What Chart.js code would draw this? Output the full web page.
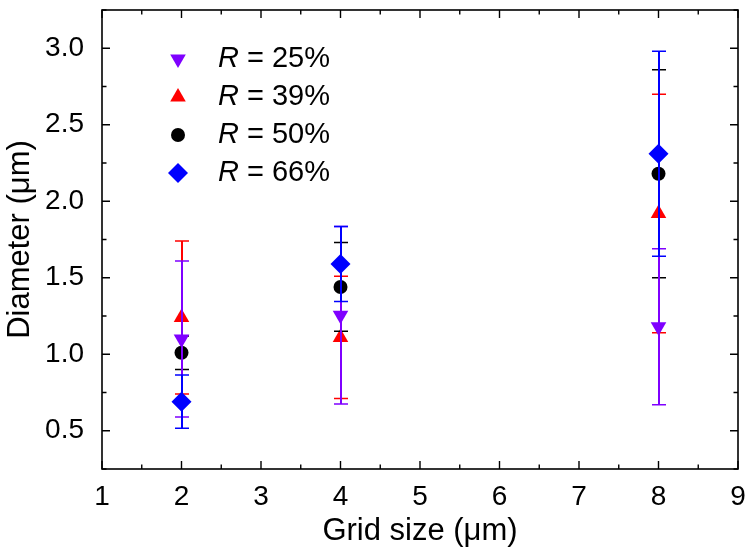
<!DOCTYPE html>
<html>
<head>
<meta charset="utf-8">
<script src="https://cdn.jsdelivr.net/npm/chart.js@4.4.1/dist/chart.umd.min.js"></script>
<style>
  html, body { margin: 0; padding: 0; background: #fff; }
  #wrap { width: 752px; height: 560px; position: relative; }
</style>
</head>
<body>
<div id="wrap"><canvas id="chart-diameter"></canvas></div>
<script>
// data
const gridSize = [2, 4, 8];
const ratioLabels = ['25%', '39%', '50%', '66%'];
const diam25 = [1.10, 1.255, 1.18];
const err25 = [0.51, 0.58, 0.51];
const diam39 = [1.24, 1.11, 1.92];
const err39 = [0.50, 0.40, 0.78];
const diam50 = [1.01, 1.44, 2.18];
const err50 = [0.11, 0.29, 0.68];
const diam66 = [0.69, 1.59, 2.31];
const err66 = [0.174, 0.245, 0.67];
const xTicks = [1, 2, 3, 4, 5, 6, 7, 8, 9];
const yTicks = [0.5, 1.0, 1.5, 2.0, 2.5, 3.0];

const colors = ['#7f00ff', '#ff0000', '#000000', '#0000ff'];
const styles = ['triangle', 'triangle', 'circle', 'rectRot'];
const rotations = [180, 0, 0, 0];
const radii = [9, 9, 7, 10];
// lower order is painted on top: red, black, purple, then blue last
const drawOrder = [1, 3, 2, 0];
const allDiam = [diam25, diam39, diam50, diam66];
const allErr = [err25, err39, err50, err66];

const FONT = "'Liberation Sans', Arial, sans-serif";

const datasets = allDiam.map((d, i) => ({
  label: 'R = ' + ratioLabels[i],
  data: gridSize.map((g, j) => ({ x: g, y: d[j] })),
  errors: allErr[i],
  order: drawOrder[i],
  backgroundColor: colors[i],
  borderColor: colors[i],
  pointStyle: styles[i],
  rotation: rotations[i],
  pointRadius: radii[i],
  pointHoverRadius: radii[i],
  pointBorderWidth: 0,
  showLine: false
}));

// error bars, each series' bars right before its own markers
const errorBars = {
  id: 'errorBars',
  beforeDatasetDraw(chart, args) {
    const ctx = chart.ctx;
    const xs = chart.scales.x, ys = chart.scales.y;
    const ds = chart.data.datasets[args.index];
    ctx.save();
    ctx.strokeStyle = ds.borderColor;
    ds.data.forEach((p, j) => {
      const px = Math.round(xs.getPixelForValue(p.x));
      const top = ys.getPixelForValue(p.y + ds.errors[j]);
      const bot = ys.getPixelForValue(p.y - ds.errors[j]);
      ctx.lineWidth = 2;
      ctx.beginPath();
      ctx.moveTo(px, top); ctx.lineTo(px, bot);
      ctx.stroke();
      ctx.lineWidth = 1.5;
      ctx.beginPath();
      ctx.moveTo(px - 7, top); ctx.lineTo(px + 7, top);
      ctx.moveTo(px - 7, bot); ctx.lineTo(px + 7, bot);
      ctx.stroke();
    });
    ctx.restore();
  }
};

// box frame with inward ticks on all four sides
const frame = {
  id: 'frame',
  afterDatasetsDraw(chart) {
    const ctx = chart.ctx;
    const a = chart.chartArea;
    const xs = chart.scales.x, ys = chart.scales.y;
    ctx.save();
    ctx.strokeStyle = '#000';
    ctx.lineWidth = 1.6;
    ctx.strokeRect(a.left, a.top, a.right - a.left, a.bottom - a.top);
    ctx.lineWidth = 1.4;
    ctx.beginPath();
    xTicks.forEach((v, i) => {
      const px = xs.getPixelForValue(v);
      ctx.moveTo(px, a.bottom); ctx.lineTo(px, a.bottom - 8);
      ctx.moveTo(px, a.top); ctx.lineTo(px, a.top + 8);
      if (i < xTicks.length - 1) {
        const mx = xs.getPixelForValue(v + 0.5);
        ctx.moveTo(mx, a.bottom); ctx.lineTo(mx, a.bottom - 4.5);
        ctx.moveTo(mx, a.top); ctx.lineTo(mx, a.top + 4.5);
      }
    });
    const yMinor = [0.25].concat(yTicks.map(v => v + 0.25));
    yTicks.forEach((v) => {
      const py = ys.getPixelForValue(v);
      ctx.moveTo(a.left, py); ctx.lineTo(a.left + 8, py);
      ctx.moveTo(a.right, py); ctx.lineTo(a.right - 8, py);
    });
    yMinor.forEach((v) => {
      const py = ys.getPixelForValue(v);
      ctx.moveTo(a.left, py); ctx.lineTo(a.left + 4.5, py);
      ctx.moveTo(a.right, py); ctx.lineTo(a.right - 4.5, py);
    });
    ctx.stroke();
    ctx.restore();
  }
};

// legend with italic R
const italicLegend = {
  id: 'italicLegend',
  afterDraw(chart) {
    const ctx = chart.ctx;
    const a = chart.chartArea;
    ctx.save();
    ctx.textBaseline = 'middle';
    chart.data.datasets.forEach((ds, i) => {
      const y = a.top + 49 + i * 38;
      const mx = a.left + 76;
      ctx.fillStyle = ds.backgroundColor;
      ctx.strokeStyle = ds.borderColor;
      Chart.helpers.drawPoint(ctx, {
        pointStyle: ds.pointStyle,
        rotation: ds.rotation,
        radius: ds.pointRadius,
        borderWidth: 0
      }, mx, y);
      ctx.fillStyle = '#000';
      ctx.font = 'italic 29px ' + FONT;
      ctx.fillText('R', a.left + 116, y);
      const w = ctx.measureText('R').width;
      ctx.font = '29px ' + FONT;
      ctx.fillText(' = ' + ratioLabels[i], a.left + 116 + w, y);
    });
    ctx.restore();
  }
};

const chartDiameter = document.getElementById('chart-diameter');

new Chart(chartDiameter, {
  type: 'scatter',
  data: { datasets: datasets },
  options: {
    responsive: true,
    maintainAspectRatio: false,
    animation: false,
    layout: { padding: { top: 9, right: 14, left: 0, bottom: 0 } },
    plugins: {
      legend: { display: false },
      tooltip: { enabled: false }
    },
    scales: {
      x: {
        type: 'linear',
        min: 1,
        max: 9,
        afterBuildTicks: (scale) => { scale.ticks = xTicks.map(v => ({ value: v })); },
        afterFit: (scale) => {
          scale.height = 91;
          scale.paddingLeft = 0;
          scale.paddingRight = 0;
        },
        grid: { display: false },
        border: { display: false },
        ticks: {
          color: '#000',
          font: { family: FONT, size: 28 },
          padding: 3,
          maxRotation: 0,
          callback: (v) => String(v)
        },
        title: {
          display: true,
          text: 'Grid size (μm)',
          color: '#000',
          font: { family: FONT, size: 31 },
          padding: { top: 0, bottom: 10 }
        }
      },
      y: {
        type: 'linear',
        min: 0.25,
        max: 3.25,
        afterBuildTicks: (scale) => { scale.ticks = yTicks.map(v => ({ value: v })); },
        afterFit: (scale) => {
          scale.width = 102;
          scale.paddingTop = 0;
          scale.paddingBottom = 0;
        },
        grid: { display: false },
        border: { display: false },
        ticks: {
          color: '#000',
          font: { family: FONT, size: 28 },
          padding: 10,
          callback: (v) => Number(v).toFixed(1)
        },
        title: {
          display: true,
          text: 'Diameter (μm)',
          color: '#000',
          font: { family: FONT, size: 31 },
          padding: { top: 2, bottom: 0 }
        }
      }
    }
  },
  plugins: [errorBars, frame, italicLegend]
});
</script>
</body>
</html>
